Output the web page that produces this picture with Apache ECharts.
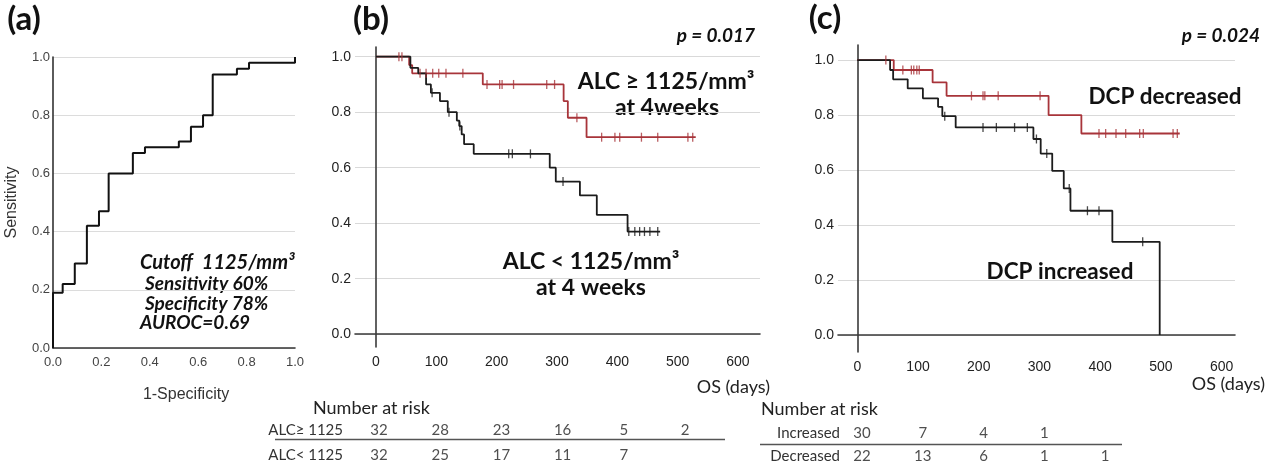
<!DOCTYPE html>
<html><head><meta charset="utf-8">
<script src="https://cdn.jsdelivr.net/npm/echarts@6/dist/echarts.min.js"></script>
<style>html,body{margin:0;padding:0;background:#fff}#c{width:1267px;height:468px}</style>
</head><body><div id="c"></div>
<script>
// ---- Panel (a): ROC curve ----
const rocX = [0, 0, 0.04, 0.09, 0.14, 0.19, 0.23, 0.33, 0.38, 0.52, 0.57, 0.62, 0.66, 0.76, 0.81, 1.0];
const rocY = [0, 0.19, 0.22, 0.29, 0.42, 0.47, 0.60, 0.67, 0.69, 0.71, 0.76, 0.80, 0.94, 0.96, 0.98, 1.0];

// ---- Panel (b): KM by ALC ----
const bHighT = [0, 55, 60, 177, 311, 318, 349, 530];
const bHighS = [1.0, 0.97, 0.94, 0.90, 0.84, 0.78, 0.71, 0.71];
const bHighCens = [38, 43, 73, 83, 94, 104, 116, 144, 184, 205, 209, 228, 283, 296, 333, 374, 396, 404, 440, 467, 517, 525];
const bLowT = [0, 57, 70, 83, 91, 106, 119, 134, 138, 142, 146, 162, 288, 298, 338, 366, 417, 471];
const bLowS = [1.0, 0.96, 0.94, 0.90, 0.87, 0.84, 0.80, 0.77, 0.75, 0.72, 0.685, 0.65, 0.60, 0.55, 0.50, 0.43, 0.37, 0.37];
const bLowCens = [93, 121, 139, 220, 226, 256, 310, 419, 429, 437, 445, 454, 467];

// ---- Panel (c): KM by DCP ----
const cDecT = [0, 60, 124, 147, 315, 369, 531];
const cDecS = [1.0, 0.964, 0.919, 0.87, 0.80, 0.733, 0.733];
const cDecCens = [47, 75, 89, 93, 98, 102, 188, 207, 210, 232, 301, 398, 409, 426, 442, 465, 471, 520, 527];
const cIncT = [0, 54, 59, 83, 108, 133, 140, 162, 290, 302, 321, 340, 351, 420, 498];
const cIncS = [1.0, 0.964, 0.93, 0.897, 0.861, 0.83, 0.796, 0.755, 0.713, 0.66, 0.597, 0.533, 0.452, 0.339, 0.0];
const cIncCens = [144, 207, 229, 259, 280, 295, 312, 349, 379, 398, 470];

const dayTicks = [0, 100, 200, 300, 400, 500, 600];
const survTicks = [0, 0.2, 0.4, 0.6, 0.8, 1.0];

// ---- Number at risk ----
const riskDays = [0, 100, 200, 300, 400, 500];
const riskLabelsB = ['ALC\u2265 1125', 'ALC< 1125'];
const riskHigh = [32, 28, 23, 16, 5, 2];
const riskLow = [32, 25, 17, 11, 7];
const riskLabelsC = ['Increased', 'Decreased'];
const riskInc = [30, 7, 4, 1];
const riskDec = [22, 13, 6, 1, 1];

const RED = '#a8343a', BLK = '#1c1c1c';
const LAB = 'Lato, "Open Sans", sans-serif';
const ARI = '"Liberation Sans", Arial, sans-serif';

function zip(a, b) { return a.map((v, i) => [v, b[i]]); }
function survAt(T, S, t) { let s = S[0]; for (let i = 0; i < T.length; i++) { if (T[i] <= t) s = S[i]; } return s; }
function cens(T, S, C) { return C.map(t => [t, survAt(T, S, t)]); }
function riskRow(vals, label) { return vals.map((v, i) => [riskDays[i], label, v]); }

function kmLine(name, xi, T, S, color) {
  return { name, type: 'line', xAxisIndex: xi, yAxisIndex: xi, step: 'end', data: zip(T, S),
    showSymbol: false, lineStyle: { color, width: 1.8 }, itemStyle: { color }, z: 3, silent: true };
}
function censSeries(xi, T, S, C, color) {
  return { type: 'scatter', xAxisIndex: xi, yAxisIndex: xi, data: cens(T, S, C), symbol: 'rect',
    symbolSize: [1.3, 9], itemStyle: { color }, z: 4, silent: true };
}
function riskSeries(xi, data) {
  return { type: 'scatter', xAxisIndex: xi, yAxisIndex: xi, data, symbolSize: 1,
    itemStyle: { color: 'rgba(0,0,0,0)' }, silent: true,
    label: { show: true, position: 'inside', formatter: p => String(p.value[2]),
      fontFamily: LAB, fontSize: 15, color: '#222' } };
}

const kmX = (min, max) => ({
  type: 'value', min, max,
  axisLine: { show: true, lineStyle: { color: '#3a3a3a', width: 1.6 } },
  axisTick: { show: false, customValues: dayTicks },
  axisLabel: { customValues: dayTicks, color: '#222', fontSize: 14, fontFamily: ARI, margin: 8 },
  splitLine: { show: false }
});
const kmY = (min, max) => ({
  type: 'value', min, max,
  axisLine: { show: true, lineStyle: { color: '#3a3a3a', width: 1.6 } },
  axisTick: { show: false, customValues: survTicks },
  axisLabel: { customValues: survTicks, formatter: v => v.toFixed(1), color: '#222', fontSize: 14, fontFamily: ARI, margin: 4 },
  splitLine: { show: true, lineStyle: { color: '#d9d9d9', width: 1 } }
});

const option = {
  animation: false,
  backgroundColor: '#fff',
  grid: [
    { left: 53, top: 57, width: 242, height: 291 },
    { left: 355, top: 47, width: 405, height: 300 },
    { left: 838, top: 45, width: 397, height: 307 },
    { left: 379, top: 418.5, width: 306, height: 48.6 },
    { left: 862, top: 421, width: 304, height: 48 }
  ],
  xAxis: [
    { gridIndex: 0, type: 'value', min: 0, max: 1, interval: 0.2,
      name: '1-Specificity', nameLocation: 'middle', nameGap: 39,
      nameTextStyle: { fontFamily: ARI, fontSize: 16, color: '#333', padding: [0, 0, 0, 24] },
      axisLine: { lineStyle: { color: '#333', width: 1.6 } }, axisTick: { show: false },
      axisLabel: { formatter: v => v.toFixed(1), color: '#444', fontSize: 13, fontFamily: ARI, margin: 8 },
      splitLine: { show: false } },
    Object.assign(kmX(-34.8, 636.5), { gridIndex: 1 }),
    Object.assign(kmX(-31.8, 622), { gridIndex: 2 }),
    { gridIndex: 3, type: 'value', min: 0, max: 500, show: false },
    { gridIndex: 4, type: 'value', min: 0, max: 500, show: false }
  ],
  yAxis: [
    { gridIndex: 0, type: 'value', min: 0, max: 1, interval: 0.2,
      name: 'Sensitivity', nameLocation: 'middle', nameGap: 33, nameRotate: 90,
      nameTextStyle: { fontFamily: ARI, fontSize: 16, color: '#333' },
      axisLine: { show: true, lineStyle: { color: '#333', width: 1.6 } }, axisTick: { show: false },
      axisLabel: { formatter: v => v.toFixed(1), color: '#444', fontSize: 13, fontFamily: ARI, margin: 3 },
      splitLine: { show: true, lineStyle: { color: '#dcdcdc' } } },
    Object.assign(kmY(-0.046, 1.035), { gridIndex: 1 }),
    Object.assign(kmY(-0.062, 1.055), { gridIndex: 2 }),
    { gridIndex: 3, type: 'category', data: riskLabelsB, inverse: true,
      axisLine: { show: false }, axisTick: { show: false }, splitLine: { show: false },
      axisLabel: { margin: 36, fontFamily: LAB, fontSize: 15, color: '#333' } },
    { gridIndex: 4, type: 'category', data: riskLabelsC, inverse: true,
      axisLine: { show: false }, axisTick: { show: false }, splitLine: { show: false },
      axisLabel: { margin: 22, fontFamily: LAB, fontSize: 15, color: '#333' } }
  ],
  series: [
    { name: 'ROC', type: 'line', xAxisIndex: 0, yAxisIndex: 0, step: 'end', data: zip(rocX, rocY),
      showSymbol: false, lineStyle: { color: '#111', width: 2 }, silent: true, z: 3 },
    kmLine('ALC >= 1125', 1, bHighT, bHighS, RED),
    censSeries(1, bHighT, bHighS, bHighCens, RED),
    kmLine('ALC < 1125', 1, bLowT, bLowS, BLK),
    censSeries(1, bLowT, bLowS, bLowCens, BLK),
    kmLine('DCP decreased', 2, cDecT, cDecS, RED),
    censSeries(2, cDecT, cDecS, cDecCens, RED),
    kmLine('DCP increased', 2, cIncT, cIncS, BLK),
    censSeries(2, cIncT, cIncS, cIncCens, BLK),
    riskSeries(3, riskRow(riskHigh, riskLabelsB[0]).concat(riskRow(riskLow, riskLabelsB[1]))),
    riskSeries(4, riskRow(riskInc, riskLabelsC[0]).concat(riskRow(riskDec, riskLabelsC[1])))
  ],
  graphic: [
    { type: 'text', x: 24, y: 19, style: { text: '(a)', font: 'bold 33px ' + LAB, fill: '#111', align: 'center', verticalAlign: 'middle' } },
    { type: 'text', x: 371, y: 19, style: { text: '(b)', font: 'bold 33px ' + LAB, fill: '#111', align: 'center', verticalAlign: 'middle' } },
    { type: 'text', x: 825, y: 18, style: { text: '(c)', font: 'bold 33px ' + LAB, fill: '#111', align: 'center', verticalAlign: 'middle' } },
    { type: 'text', x: 755, y: 36, style: { text: 'p = 0.017', font: 'italic bold 19px ' + LAB, fill: '#111', align: 'right', verticalAlign: 'middle' } },
    { type: 'text', x: 1260, y: 36, style: { text: 'p = 0.024', font: 'italic bold 19px ' + LAB, fill: '#111', align: 'right', verticalAlign: 'middle' } },
    { type: 'text', x: 140, y: 263, style: { text: 'Cutoff  1125/mm\u00b3', font: 'italic bold 20px ' + LAB, fill: '#111', verticalAlign: 'middle' } },
    { type: 'text', x: 145, y: 284, style: { text: 'Sensitivity 60%', font: 'italic bold 19px ' + LAB, fill: '#111', verticalAlign: 'middle' } },
    { type: 'text', x: 145, y: 304, style: { text: 'Specificity 78%', font: 'italic bold 19px ' + LAB, fill: '#111', verticalAlign: 'middle' } },
    { type: 'text', x: 140, y: 323, style: { text: 'AUROC=0.69', font: 'italic bold 19px ' + LAB, fill: '#111', verticalAlign: 'middle' } },
    { type: 'text', x: 666, y: 82, style: { text: 'ALC \u2265 1125/mm\u00b3', font: 'bold 23px ' + LAB, fill: '#111', align: 'center', verticalAlign: 'middle' } },
    { type: 'text', x: 667, y: 108, style: { text: 'at 4weeks', font: 'bold 23px ' + LAB, fill: '#111', align: 'center', verticalAlign: 'middle' } },
    { type: 'text', x: 591, y: 262, style: { text: 'ALC < 1125/mm\u00b3', font: 'bold 23px ' + LAB, fill: '#111', align: 'center', verticalAlign: 'middle' } },
    { type: 'text', x: 591, y: 288, style: { text: 'at 4 weeks', font: 'bold 23px ' + LAB, fill: '#111', align: 'center', verticalAlign: 'middle' } },
    { type: 'text', x: 1165, y: 97, style: { text: 'DCP decreased', font: 'bold 22.5px ' + LAB, fill: '#111', align: 'center', verticalAlign: 'middle' } },
    { type: 'text', x: 1060, y: 272, style: { text: 'DCP increased', font: 'bold 22.5px ' + LAB, fill: '#111', align: 'center', verticalAlign: 'middle' } },
    { type: 'text', x: 770, y: 387, style: { text: 'OS (days)', font: '18px ' + LAB, fill: '#222', align: 'right', verticalAlign: 'middle' } },
    { type: 'text', x: 1265, y: 384, style: { text: 'OS (days)', font: '18px ' + LAB, fill: '#222', align: 'right', verticalAlign: 'middle' } },
    { type: 'text', x: 313, y: 408, style: { text: 'Number at risk', font: '18px ' + LAB, fill: '#222', verticalAlign: 'middle' } },
    { type: 'text', x: 761, y: 409, style: { text: 'Number at risk', font: '18px ' + LAB, fill: '#222', verticalAlign: 'middle' } },
    { type: 'line', shape: { x1: 275, y1: 439.5, x2: 725, y2: 439.5 }, style: { stroke: '#555', lineWidth: 1.5 } },
    { type: 'line', shape: { x1: 760, y1: 444.5, x2: 1122, y2: 444.5 }, style: { stroke: '#555', lineWidth: 1.5 } }
  ]
};
echarts.init(document.getElementById('c')).setOption(option);
</script></body></html>
